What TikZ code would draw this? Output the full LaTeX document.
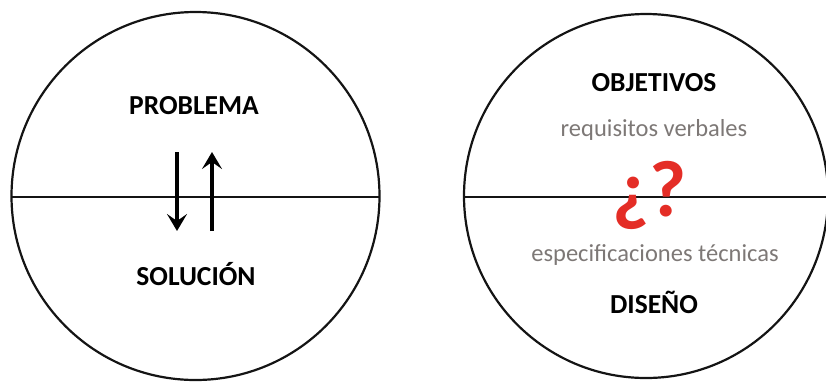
\documentclass[tikz,border=0pt]{standalone}
\usepackage{fontspec}
\setmainfont{Carlito}
\usepackage{tikz}
\usetikzlibrary{arrows.meta}
\usepackage{xcolor}
\definecolor{ring}{RGB}{20,20,20}
\definecolor{soft_text}{RGB}{125,120,118}
\definecolor{doubt}{RGB}{228,45,38}

\tikzset{
  ring/.style = {draw=ring, line width=2.2pt},
  title/.style = {font=\fontsize{27.5}{30}\selectfont\bfseries, text=black, inner sep=0pt},
  note/.style = {font=\fontsize{24.5}{28}\selectfont, text=soft_text, inner sep=0pt},
  flow/.style = {line width=3.4pt, -{Stealth[length=17pt, width=20pt, inset=7pt]}}
}

\begin{document}
\begin{tikzpicture}[x=1pt, y=-1pt]
            \useasboundingbox (0,0) rectangle (826,381);
            % left circle
            \draw[ring] (195.5,196) circle[radius=184];
            \draw[ring] (11.5,197) -- (379.5,197);
            \node[title] (problema) at (194,106) {PROBLEMA};
            \node[title] (solucion) at (196,274) {SOLUCIÓN};
            \coordinate (down_a) at (177,152);
            \coordinate (down_b) at (177,231);
            \coordinate (up_a) at (212,231);
            \coordinate (up_b) at (212,152);
            \draw[flow] (down_a) -- (down_b);
            \draw[flow] (up_a) -- (up_b);
            % right circle
            \draw[ring] (646,196) circle[radius=182];
            \draw[ring] (464,197) -- (826,197);
            \node[title] (objetivos) at (654,83) {OBJETIVOS};
            \node[note] (requisitos) at (654,130) {requisitos verbales};
            \node[font=\fontsize{80}{80}\selectfont\bfseries, text=doubt, inner sep=0pt] (duda) at (650,195) {¿?};
            \node[note] (especificaciones) at (655,255) {especificaciones técnicas};
            \node[title] (diseno) at (654,302) {DISEÑO};
        \end{tikzpicture}
\end{document}
